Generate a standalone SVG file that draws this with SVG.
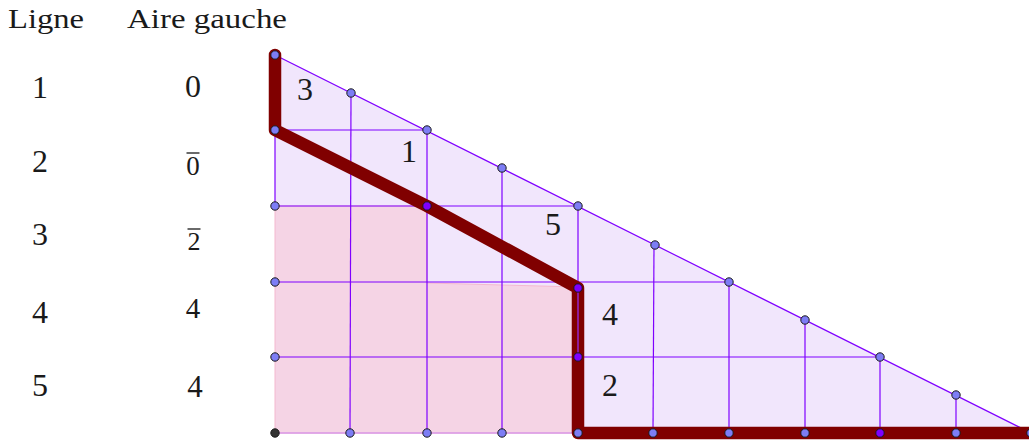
<svg xmlns="http://www.w3.org/2000/svg" width="1029" height="445" viewBox="0 0 1029 445">
<style>
  .t { font-family: "Liberation Serif", "DejaVu Serif", serif; fill: #1a1a1a; }
  .n { font-size: 32px; text-anchor: middle; }
  .g { stroke: #7f00ff; stroke-width: 1.2; fill: none; }
  .dot { fill: #7d7df5; stroke: #1a1a1a; stroke-width: 1; }
  .pdot { fill: #7f00ff; stroke: #1a1a1a; stroke-width: 1; }
</style>
<rect width="1029" height="445" fill="#ffffff"/>

<g id="header">
  <text class="t" x="8" y="28" font-size="28" textLength="76" lengthAdjust="spacingAndGlyphs">Ligne</text>
  <text class="t" x="127" y="28" font-size="28" textLength="160" lengthAdjust="spacingAndGlyphs">Aire gauche</text>
</g>

<g id="col-ligne">
  <text class="t n" x="40" y="98">1</text>
  <text class="t n" x="40" y="172">2</text>
  <text class="t n" x="40" y="245">3</text>
  <text class="t n" x="40" y="323">4</text>
  <text class="t n" x="40" y="396">5</text>
</g>

<g id="col-aire">
  <text class="t n" x="193" y="97">0</text>
  <text class="t" x="193" y="175" font-size="27" text-anchor="middle">0</text>
  <line x1="186.5" y1="153" x2="199.5" y2="153" stroke="#1a1a1a" stroke-width="1.3"/>
  <text class="t" x="194" y="250" font-size="26" text-anchor="middle">2</text>
  <line x1="187.5" y1="229" x2="200.5" y2="229" stroke="#1a1a1a" stroke-width="1.3"/>
  <text class="t" x="193" y="318" font-size="29" text-anchor="middle">4</text>
  <text class="t" x="195" y="397" font-size="31" text-anchor="middle">4</text>
</g>

<g id="regions">
  <polygon id="triangle" points="275,55 1031,433 275,433" fill="#f1e6fc" stroke="none"/>
  <polygon id="pink" points="275,206 427,206 427,283 578,287 578,433 275,433" fill="#f5d4e5" stroke="#f4b8cf" stroke-width="1"/>
</g>

<g id="connectors">
  <line class="g" x1="275" y1="55" x2="1031" y2="433"/>
  <line class="g" x1="275" y1="130" x2="275" y2="206"/>
  <line x1="275" y1="433" x2="578" y2="433" stroke="#d99ae8" stroke-width="1.5"/>
  <line class="g" x1="275" y1="130" x2="427" y2="130"/>
  <line class="g" x1="275" y1="206" x2="578" y2="206"/>
  <line class="g" x1="275" y1="282" x2="729" y2="282"/>
  <line class="g" x1="275" y1="357" x2="880" y2="357"/>
  <line class="g" x1="351" y1="93" x2="350" y2="433"/>
  <line class="g" x1="427" y1="130" x2="427" y2="433"/>
  <line class="g" x1="502" y1="168" x2="502" y2="433"/>
  <line class="g" x1="578" y1="206" x2="578" y2="288"/>
  <line class="g" x1="654" y1="244" x2="653" y2="433"/>
  <line class="g" x1="729" y1="281" x2="729" y2="433"/>
  <line class="g" x1="805" y1="319" x2="805" y2="433"/>
  <line class="g" x1="880" y1="357" x2="880" y2="433"/>
  <line class="g" x1="956" y1="395" x2="956" y2="433"/>
  <polyline id="path" points="275,55 275,130 427,206 578,288 578,433 1040,433" fill="none" stroke="#800000" stroke-width="12.5" stroke-linejoin="round" stroke-linecap="round"/>
  <line x1="578" y1="292" x2="578" y2="357" stroke="#9a30ff" stroke-width="1.2"/>
</g>

<g id="points">
  <circle class="dot" cx="275" cy="55" r="4.2"/>
  <circle class="dot" cx="351" cy="93" r="4.2"/>
  <circle class="dot" cx="427" cy="130" r="4.2"/>
  <circle class="dot" cx="502" cy="168" r="4.2"/>
  <circle class="dot" cx="578" cy="206" r="4.2"/>
  <circle class="dot" cx="655" cy="245" r="4.2"/>
  <circle class="dot" cx="729" cy="282" r="4.2"/>
  <circle class="dot" cx="805" cy="320" r="4.2"/>
  <circle class="dot" cx="880" cy="357" r="4.2"/>
  <circle class="dot" cx="956" cy="395" r="4.2"/>
  <circle class="dot" cx="275" cy="130" r="4.2"/>
  <circle class="dot" cx="275" cy="206" r="4.2"/>
  <circle class="dot" cx="275" cy="282" r="4.2"/>
  <circle class="dot" cx="275" cy="357" r="4.2"/>
  <circle cx="275" cy="433" r="4.2" fill="#333333" stroke="#1a1a1a" stroke-width="1"/>
  <circle class="dot" cx="350" cy="433" r="4.2"/>
  <circle class="dot" cx="427" cy="433" r="4.2"/>
  <circle class="dot" cx="502" cy="433" r="4.2"/>
  <circle class="dot" cx="578" cy="433" r="4.2"/>
  <circle class="dot" cx="653" cy="433" r="4.2"/>
  <circle class="dot" cx="729" cy="433" r="4.2"/>
  <circle class="dot" cx="805" cy="433" r="4.2"/>
  <circle class="pdot" cx="880" cy="433" r="4.2"/>
  <circle class="dot" cx="956" cy="433" r="4.2"/>
  <circle class="dot" cx="1031" cy="433" r="4.2"/>
  <circle class="pdot" cx="427" cy="206" r="4.2"/>
  <circle class="pdot" cx="578" cy="288" r="4.2"/>
  <circle class="pdot" cx="578" cy="357" r="4.2"/>
</g>

<g id="area-labels">
  <text class="t n" x="305" y="100">3</text>
  <text class="t n" x="409" y="162">1</text>
  <text class="t n" x="553" y="235">5</text>
  <text class="t n" x="610" y="325">4</text>
  <text class="t n" x="610" y="396">2</text>
</g>
</svg>
